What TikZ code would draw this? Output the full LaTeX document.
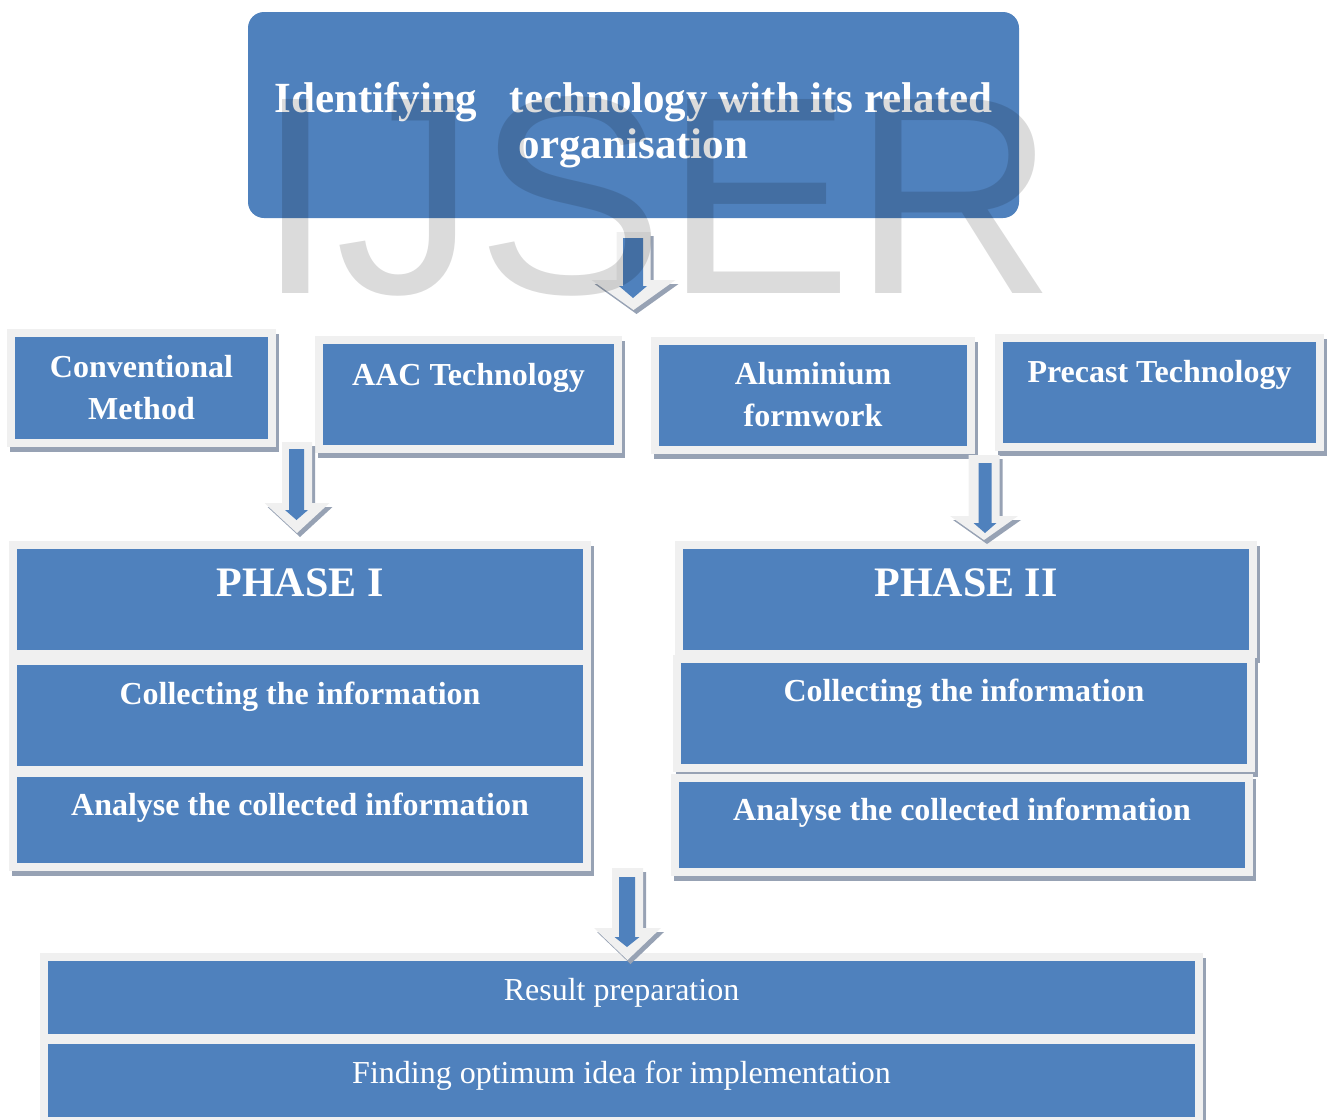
\documentclass[tikz,border=0pt]{standalone}
\usepackage{fontspec}
\setmainfont{Liberation Serif}
\newfontfamily\marksans{Liberation Sans}
\usetikzlibrary{fit}

\definecolor{boxblue}{HTML}{4F81BD}
\definecolor{edgegrey}{HTML}{F0F0F0}
\definecolor{shadowgrey}{HTML}{97A2B4}

\tikzset{
  face/.style={fill=boxblue, draw=none, inner sep=0pt, outer sep=0pt},
  headtext/.style={text=white, inner sep=0pt, anchor=base,
    font=\fontsize{43}{46}\selectfont\bfseries},
  boldlabel/.style={text=white, inner sep=0pt, anchor=base,
    font=\fontsize{32}{42}\selectfont\bfseries},
  phaselabel/.style={text=white, inner sep=0pt, anchor=base,
    font=\fontsize{42}{46}\selectfont\bfseries},
  plainlabel/.style={text=white, inner sep=0pt, anchor=base,
    font=\fontsize{32}{40}\selectfont},
  watermark/.style={text=black, opacity=0.14, inner sep=0pt, anchor=base,
    font=\fontsize{282}{282}\selectfont\marksans},
}

% framed panel: drop shadow, light frame, blue face (face corners in px)
\newcommand\panel[5]{%
  \fill[shadowgrey] ({#2-5},{#3-3}) rectangle ({#4+11},{#5+13});
  \fill[edgegrey] ({#2-8},{#3-8}) rectangle ({#4+8},{#5+8});
  \node[face, fit={(#2,#3) (#4,#5)}] (#1) {};
}

% downward block arrow: style, centre x, top y, shaft half width,
% head start y, head half width, tip y
\newcommand\arrowbody[7]{%
  \fill[#1] ({#2-#4},{#3}) -- ({#2+#4},{#3}) -- ({#2+#4},{#5})
    -- ({#2+#6},{#5}) -- ({#2},{#7}) -- ({#2-#6},{#5})
    -- ({#2-#4},{#5}) -- cycle;
}

% light arrow with its drop shadow
\newcommand\arrowframe[6]{%
  \arrowbody{shadowgrey, shift={(3,4)}}{#1}{#2}{#3}{#4}{#5}{#6}
  \arrowbody{edgegrey}{#1}{#2}{#3}{#4}{#5}{#6}
}

\newcommand\twolines[2]{\begin{tabular}[t]{@{}c@{}}#1\\#2\end{tabular}}

\begin{document}
\begin{tikzpicture}[x=1pt,y=-1pt]
\useasboundingbox (0,0) rectangle (1330,1119);
\clip (0,0) rectangle (1330,1119);

% title block
\node[face, rounded corners=16pt, fit={(248,12) (1019,218)}] (ident) {};
\node[headtext] (identT) at (633.5,112)
  {\twolines{Identifying\ \ \ technology with its related}{organisation}};

% technologies
\panel{conv}{15}{337}{268}{439}
\panel{aac}{323}{344}{614}{445}
\panel{alum}{659}{345}{967}{446}
\panel{precast}{1003}{342}{1316}{443}

% phase I
\panel{pAhead}{17}{549}{583}{650}
\panel{pAcoll}{17}{665}{583}{766}
\panel{pAanal}{17}{777}{583}{863}

% phase II
\panel{pBhead}{683}{549}{1249}{650}
\panel{pBcoll}{681}{663}{1247}{764}
\panel{pBanal}{679}{782}{1245}{868}

% outcome
\panel{result}{48}{961}{1195}{1034}
\panel{finding}{48}{1044}{1195}{1117}

% labels
\node[boldlabel] (convT) at (141.5,377) {\twolines{Conventional}{Method}};
\node[boldlabel] (aacT) at (468.5,385) {AAC Technology};
\node[boldlabel] (alumT) at (813,384) {\twolines{Aluminium}{formwork}};
\node[boldlabel] (precastT) at (1159.5,382) {Precast Technology};
\node[phaselabel] (pAT) at (300,596) {PHASE I};
\node[phaselabel] (pBT) at (966,596) {PHASE II};
\node[boldlabel] (pAcollT) at (300,704) {Collecting the information};
\node[boldlabel] (pBcollT) at (964,701) {Collecting the information};
\node[boldlabel] (pAanalT) at (300,815) {Analyse the collected information};
\node[boldlabel] (pBanalT) at (962,820) {Analyse the collected information};
\node[plainlabel] (resultT) at (621.5,1000) {Result preparation};
\node[plainlabel] (findingT) at (621.5,1083) {Finding optimum idea for implementation};

% flow arrows
\arrowframe{633.5}{232}{17}{280}{42}{310}
\arrowbody{boxblue}{633}{238}{10}{286}{14}{298}
\arrowframe{297}{442}{15}{503}{32.5}{533}
\arrowbody{boxblue}{296.5}{449}{7.5}{510}{11.5}{520}
\arrowframe{984}{455}{15.5}{516}{34}{540}
\arrowbody{boxblue}{985}{463}{6.5}{523}{11.5}{533}
\arrowframe{627.5}{868}{15.5}{928}{33.5}{960}
\arrowbody{boxblue}{627}{877}{8}{937}{12.5}{947}

% publisher mark over the page
\node[watermark] (mark) at (656.5,293) {IJSER};
\end{tikzpicture}
\end{document}
